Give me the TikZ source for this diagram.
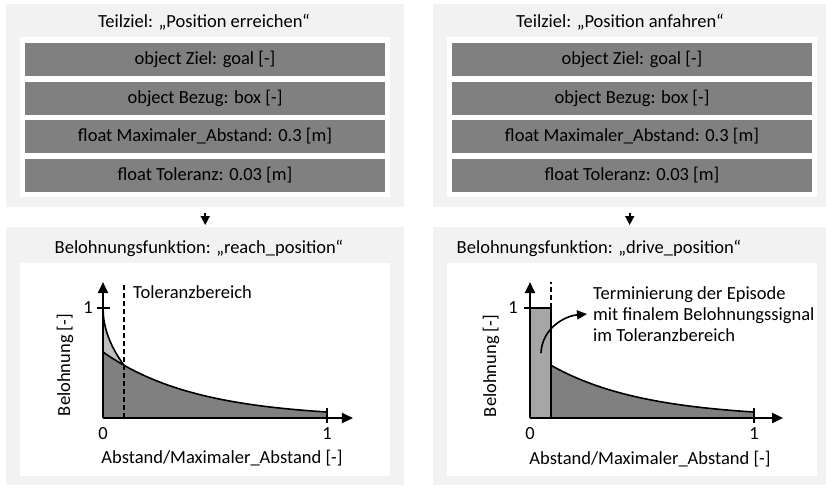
\documentclass[tikz,border=0pt]{standalone}
\usepackage{fontspec}
\setmainfont{Carlito}
\usetikzlibrary{arrows.meta}
\definecolor{panelG}{RGB}{242,242,242}
\definecolor{boxG}{RGB}{128,128,128}
\definecolor{lightG}{RGB}{191,191,191}
\definecolor{rectG}{RGB}{166,166,166}

\tikzset{
  panel/.style={fill=panelG,inner sep=0pt,anchor=north west,minimum width=398pt,minimum height=#1},
  sheet/.style={fill=white,inner sep=0pt,anchor=north west,minimum width=370pt,minimum height=#1},
  param/.style={fill=boxG,inner sep=0pt,minimum width=360pt,minimum height=33pt},
  flow/.style={line width=1.6pt,-{Triangle[length=9pt,width=9pt]},shorten <=6pt,shorten >=2pt},
  axis/.style={line width=2pt,-{Triangle[length=11pt,width=10pt]}},
  curve/.style={line width=1.6pt},
  tol/.style={line width=1.8pt,dash pattern=on 5pt off 3pt}
}

\begin{document}
\begin{tikzpicture}[x=1pt,y=-1pt,font=\fontsize{18.5}{22}\selectfont]
\useasboundingbox (0,0) rectangle (826,491);

% --- left column: Teilziel "Position erreichen"
\node[panel=203pt] (pL) at (6,4) {};
\node[sheet=160pt] (sL) at (20,37) {};
\node (tL) at (204,22) {Teilziel: „Position erreichen“};
\node[param] (zL) at (205,59.5) {object Ziel: goal [-]};
\node[param] (bL) at (205,98.5) {object Bezug: box [-]};
\node[param] (mL) at (205,136.5) {float Maximaler\_Abstand: 0.3 [m]};
\node[param] (kL) at (205,175.5) {float Toleranz: 0.03 [m]};

\node[panel=258pt] (fL) at (6,227) {};
\node[sheet=213pt] (gL) at (20,263) {};
\node (hL) at (199,248) {Belohnungsfunktion: „reach\_position“};
\draw[flow] (pL.south) -- (fL.north);

% --- right column: Teilziel "Position anfahren"
\node[panel=203pt,minimum width=393pt] (pR) at (433,4) {};
\node[sheet=160pt] (sR) at (447,37) {};
\node (tR) at (620,22) {Teilziel: „Position anfahren“};
\node[param] (zR) at (632,59) {object Ziel: goal [-]};
\node[param] (bR) at (632,98) {object Bezug: box [-]};
\node[param] (mR) at (632,136) {float Maximaler\_Abstand: 0.3 [m]};
\node[param] (kR) at (632,175) {float Toleranz: 0.03 [m]};

\node[panel=258pt,minimum width=393pt] (fR) at (433,227) {};
\node[sheet=213pt] (gR) at (447,263) {};
\node (hR) at (599,248) {Belohnungsfunktion: „drive\_position“};
\draw[flow] (pR.south) -- (fR.north);

% reward curve reach_position
\begin{scope}[shift={(103,418)},x=224pt,y=110pt]
\fill[lightG] (0,0) -- plot[domain=0:0.094,samples=40] (\x,{1-1.7*sqrt(\x)}) -- (0.094,0) -- cycle;
\fill[boxG] (0,0) -- plot[domain=0:1,samples=60] (\x,{0.6*exp(-2.4*\x)}) -- (1,0) -- cycle;
\draw[curve] plot[domain=0:0.094,samples=40] (\x,{1-1.7*sqrt(\x)});
\draw[curve] plot[domain=0:1,samples=60] (\x,{0.6*exp(-2.4*\x)});
\draw[tol] (0.094,0) -- (0.094,1.236);
\draw[axis] (0,0) -- (1.116,0);
\draw[axis] (0,0) -- (0,1.236);
\draw[line width=1.6pt] (-0.027,1) -- (0.031,1);
\draw[line width=1.6pt] (1,-0.045) -- (1,0.09);
\node at (-0.067,1) {1};
\node at (0,-0.14) {0};
\node at (1,-0.14) {1};
\end{scope}
\node[anchor=west,inner sep=0pt] (tb) at (133,292) {Toleranzbereich};
\node (xL) at (222,458) {Abstand/Maximaler\_Abstand [-]};
\node[rotate=90] (yL) at (65,365) {Belohnung [-]};

% reward curve drive_position
\begin{scope}[shift={(530,418)},x=224pt,y=110pt]
\fill[rectG] (0,0) rectangle (0.094,1);
\fill[boxG] (0.094,0) -- plot[domain=0.094:1,samples=60] (\x,{0.6*exp(-2.4*\x)}) -- (1,0) -- cycle;
\draw[curve] plot[domain=0.094:1,samples=60] (\x,{0.6*exp(-2.4*\x)});
\draw[curve] (0,1) -- (0.094,1) -- (0.094,0);
\draw[tol] (0.094,1) -- (0.094,1.236);
\draw[axis] (0,0) -- (1.13,0);
\draw[axis] (0,0) -- (0,1.236);
\draw[line width=1.6pt] (-0.027,1) -- (0.031,1);
\draw[line width=1.6pt] (1,-0.045) -- (1,0.09);
\node at (-0.076,1) {1};
\node at (0,-0.14) {0};
\node at (1,-0.14) {1};
\coordinate (ep) at (0.049,0.59);
\end{scope}
\node[anchor=west,inner sep=0pt,align=left,font=\fontsize{18.5}{21}\selectfont] (term) at (593,314)
  {Terminierung der Episode\\mit finalem Belohnungssignal\\im Toleranzbereich};
\draw[line width=1.6pt,-{Triangle[length=10pt,width=9pt]}] (ep) to[out=88,in=185] ([xshift=-6pt]term.west);
\node (xR) at (650,459) {Abstand/Maximaler\_Abstand [-]};
\node[rotate=90] (yR) at (491,366) {Belohnung [-]};
\end{tikzpicture}
\end{document}
